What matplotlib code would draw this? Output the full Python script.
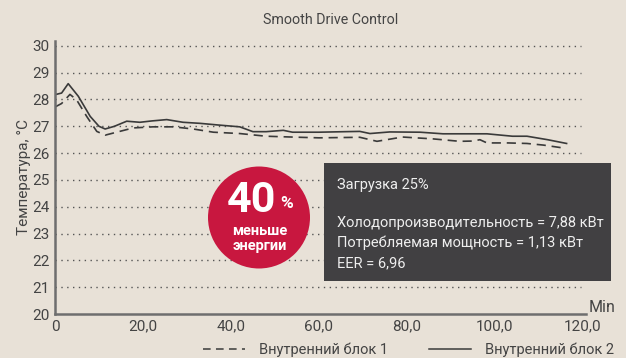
import matplotlib
matplotlib.use("Agg")
import matplotlib.pyplot as plt
from matplotlib.patches import Rectangle, Ellipse
from matplotlib.lines import Line2D

plt.rcParams['font.family'] = ['Roboto', 'DejaVu Sans']

# Time axis (min) and room temperature for both indoor units
time_unit2 = [0, 1.5, 3, 5.3, 8, 10, 11.4, 13.5, 16.3, 19.3, 22, 25.4, 29.1, 33, 37, 42, 45, 48,
              51.9, 54, 60, 66, 69.3, 71.6, 76.1, 83, 88.2, 93, 98.2, 104, 107.3, 112, 116.3]
temp_unit2 = [28.18, 28.24, 28.59, 28.12, 27.37, 27.0, 26.9, 27.0, 27.19, 27.15, 27.2, 27.25, 27.15,
              27.11, 27.05, 26.98, 26.8, 26.8, 26.85, 26.78, 26.78, 26.8, 26.81, 26.73, 26.79, 26.78,
              26.72, 26.72, 26.72, 26.63, 26.63, 26.5, 26.36]

time_unit1 = [0, 1.5, 3.4, 4.9, 7.2, 9.5, 11.4, 14, 17.8, 22.3, 26.9, 31.4, 36, 42, 48, 55.7, 60,
              69.3, 73.2, 79, 86, 92, 95, 96.6, 98.2, 103, 107.3, 111, 115.2]
temp_unit1 = [27.72, 27.85, 28.19, 27.99, 27.37, 26.81, 26.67, 26.78, 26.94, 26.98, 26.98, 26.9,
              26.78, 26.73, 26.63, 26.59, 26.57, 26.59, 26.44, 26.6, 26.53, 26.44, 26.45, 26.5,
              26.38, 26.38, 26.36, 26.3, 26.2]

x_ticks = [0, 20, 40, 60, 80, 100, 120]
x_labels = ['0', '20,0', '40,0', '60,0', '80,0', '100,0', '120,0']
y_ticks = list(range(20, 31))

series_labels = ['Внутренний блок 1', 'Внутренний блок 2']
info_title = 'Загрузка 25%'
info_lines = ['Холодопроизводительность = 7,88 кВт',
              'Потребляемая мощность = 1,13 кВт',
              'EER = 6,96']

BG = '#e8e1d7'
INK = '#444444'
LINE = '#3a3a3a'
W, H = 626, 358

fig = plt.figure(figsize=(W / 100, H / 100), dpi=100, facecolor=BG)
ax = fig.add_axes([55 / W, (H - 314) / H, (585.5 - 55) / W, (314 - 40.5) / H])
ax.set_facecolor(BG)
ax.set_xlim(0, 120.6)
ax.set_ylim(20, 30.2)

# dotted grid, stopping a little before the axis end
ax.hlines(y_ticks[1:], 0, 119.5, colors='#555555', linestyles=(0, (1, 3.2)), linewidth=1.0)

ax.plot(time_unit1, temp_unit1, color=LINE, lw=1.2, ls=(0, (5.5, 3.5)))
ax.plot(time_unit2, temp_unit2, color=LINE, lw=1.2)

for s in ['top', 'right']:
    ax.spines[s].set_visible(False)
for s in ['left', 'bottom']:
    ax.spines[s].set_color('#6e6e6e')
    ax.spines[s].set_linewidth(1.8)

ax.set_xticks(x_ticks)
ax.set_xticklabels(x_labels)
ax.set_yticks(y_ticks)
ax.tick_params(length=0, labelsize=11, colors=INK, pad=4)
ax.set_ylabel('Температура, °C', fontsize=11, color=INK, labelpad=1)

fig.text(331 / W, 1 - 20 / H, 'Smooth Drive Control', ha='center', va='center', fontsize=10.3, color=INK)
fig.text(589 / W, 1 - 307 / H, 'Min', ha='left', va='center', fontsize=11.5, color=INK)

# info box
fig.add_artist(Rectangle((324 / W, 1 - 281 / H), (611 - 324) / W, (281 - 163) / H,
                         transform=fig.transFigure, facecolor='#414042', edgecolor='none'))
fig.text(337 / W, 1 - 185 / H, info_title, ha='left', va='center', fontsize=10.5, color='#eeeeee')
for i, line in enumerate(info_lines):
    fig.text(337 / W, 1 - (223 + 20 * i) / H, line, ha='left', va='center', fontsize=10.5, color='#eeeeee')

# red badge
r = 51
fig.add_artist(Ellipse((259 / W, 1 - 217.5 / H), 2 * r / W, 2 * r / H,
                       transform=fig.transFigure, facecolor='#c8173f', edgecolor='none'))
fig.text(252 / W, 1 - 212 / H, '40', ha='center', va='baseline', fontsize=31, fontweight='bold', color='white')
fig.text(286.5 / W, 1 - 208 / H, '%', ha='center', va='baseline', fontsize=12.5, fontweight='bold', color='white')
fig.text(260 / W, 1 - 235 / H, 'меньше', ha='center', va='baseline', fontsize=10.5, fontweight='bold', color='white')
fig.text(260 / W, 1 - 250 / H, 'энергии', ha='center', va='baseline', fontsize=10.5, fontweight='bold', color='white')

handles = [Line2D([], [], color=LINE, lw=1.1, ls=(0, (5, 3.5))),
           Line2D([], [], color=LINE, lw=1.1)]
fig.legend(handles, series_labels, loc='center right', bbox_to_anchor=(614 / W, 1 - 350 / H),
           ncol=2, frameon=False, fontsize=10.5, handlelength=2.9, handletextpad=0.95,
           columnspacing=2.8, labelcolor=INK, borderaxespad=0, borderpad=0)

fig.savefig('out.png', dpi=100, facecolor=BG)
